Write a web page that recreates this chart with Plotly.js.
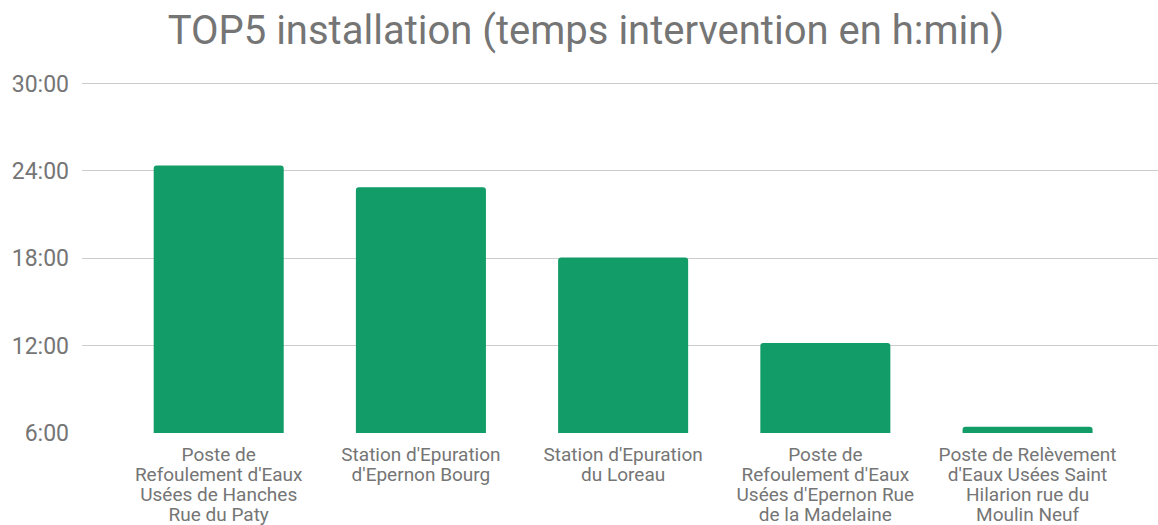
<!DOCTYPE html>
<html>
<head>
<meta charset="utf-8">
<script src="https://cdn.plot.ly/plotly-3.0.1.min.js"></script>
<style>html,body{margin:0;padding:0;background:#fff;}#chart{width:1158px;height:525px;}</style>
</head>
<body>
<div id="chart"></div>
<script>
const categories = [
  "Poste de<br>Refoulement d'Eaux<br>Usées de Hanches<br>Rue du Paty",
  "Station d'Epuration<br>d'Epernon Bourg",
  "Station d'Epuration<br>du Loreau",
  "Poste de<br>Refoulement d'Eaux<br>Usées d'Epernon Rue<br>de la Madelaine",
  "Poste de Relèvement<br>d'Eaux Usées Saint<br>Hilarion rue du<br>Moulin Neuf"
];
const hours = [24.37, 22.87, 18.05, 12.18, 6.42];
const tickValues = [6, 12, 18, 24, 30];
const tickLabels = ["6:00", "12:00", "18:00", "24:00", "30:00"];

const positions = categories.map((_, i) => i);
const lines = categories.map(c => c.split('<br>'));
const maxLines = Math.max(...lines.map(l => l.length));

const traces = [{
  type: 'bar',
  x: positions,
  y: hours,
  marker: {color: '#129c67', cornerradius: 3},
  hoverinfo: 'skip'
}];

const xRange = [-0.676, 4.645];
const layout = {
  width: 1158, height: 525,
  paper_bgcolor: '#fff', plot_bgcolor: '#fff',
  font: {family: 'Roboto, sans-serif', color: '#757575'},
  title: {text: 'TOP5 installation (temps intervention en h:min)', font: {size: 40, color: '#757575', family: 'Roboto, sans-serif'}, x: 0.506, xanchor: 'center', y: 0.943, yanchor: 'middle'},
  margin: {l: 82, r: 0, t: 82, b: 92, pad: 0},
  bargap: 0.357,
  showlegend: false,
  yaxis: {
    range: [5.995, 30.1],
    tickvals: tickValues,
    ticktext: tickLabels,
    showgrid: true, gridcolor: '#cccccc', gridwidth: 1.3,
    zeroline: false, showline: false, ticks: '',
    ticklabelstandoff: 12,
    tickfont: {size: 23, color: '#757575'},
    fixedrange: true
  }
};

for (let k = 0; k < maxLines; k++) {
  const name = k === 0 ? 'xaxis' : 'xaxis' + (k + 1);
  const ax = {
    range: xRange,
    tickmode: 'array',
    tickvals: positions,
    ticktext: lines.map(l => l[k] || ''),
    showgrid: false, zeroline: false, showline: false,
    ticks: '', ticklabelstandoff: 8 + 20 * k,
    tickfont: {size: 19, color: '#757575'},
    fixedrange: true
  };
  if (k > 0) {
    ax.overlaying = 'x'; ax.anchor = 'y'; ax.side = 'bottom';
    traces.push({
      type: 'scatter', mode: 'markers',
      x: positions, y: hours,
      xaxis: 'x' + (k + 1), yaxis: 'y',
      marker: {opacity: 0, size: 1},
      hoverinfo: 'skip', showlegend: false
    });
  }
  layout[name] = ax;
}

Plotly.newPlot('chart', traces, layout, {staticPlot: true, displayModeBar: false});
</script>
</body>
</html>
